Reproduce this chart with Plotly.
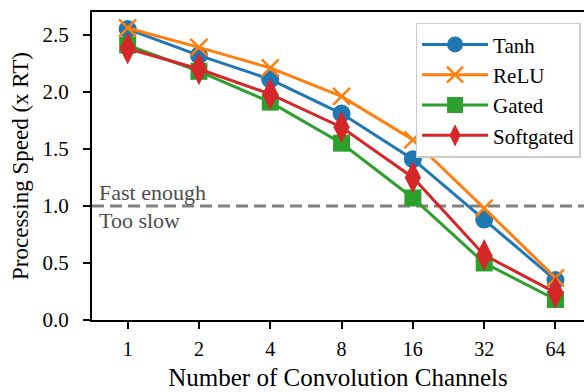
import plotly.graph_objects as go

channels = ["1", "2", "4", "8", "16", "32", "64"]
tanh = [2.55, 2.32, 2.11, 1.81, 1.41, 0.88, 0.35]
relu = [2.56, 2.39, 2.21, 1.96, 1.58, 0.98, 0.37]
gated = [2.41, 2.18, 1.91, 1.55, 1.07, 0.50, 0.18]
softgated = [2.38, 2.20, 1.98, 1.69, 1.25, 0.57, 0.24]

names = ["Tanh", "ReLU", "Gated", "Softgated"]
series = [tanh, relu, gated, softgated]
colors = ["#1f77b4", "#ff7f0e", "#2ca02c", "#d62728"]
symbols = ["circle", "x-thin", "square", "diamond-tall"]
sizes = [18, 17, 17, 23]

FONT = "Liberation Serif, Times New Roman, DejaVu Serif, serif"
xs = list(range(len(channels)))

fig = go.Figure()
for name, ys, c, s, sz in zip(names, series, colors, symbols, sizes):
    fig.add_trace(go.Scatter(
        x=xs, y=ys, name=name, mode="lines+markers",
        line=dict(color=c, width=3),
        marker=dict(symbol=s, size=sz, color=c, line=dict(color=c, width=2.5 if s == "x-thin" else 0)),
    ))

fig.add_shape(type="line", xref="paper", yref="y", x0=0, x1=1, y0=1.0, y1=1.0,
              line=dict(color="#808080", width=3, dash="12px,6px"), layer="below")
fig.add_annotation(xref="paper", yref="y", x=0.01, y=1.0, text="Fast enough", showarrow=False,
                   xanchor="left", yanchor="bottom", yshift=-1, font=dict(family=FONT, size=22, color="#4d4d4d"))
fig.add_annotation(xref="paper", yref="y", x=0.01, y=1.0, text="Too slow", showarrow=False,
                   xanchor="left", yanchor="top", yshift=0, font=dict(family=FONT, size=22, color="#4d4d4d"))

fig.update_layout(
    width=584, height=392,
    margin=dict(l=92, r=0, t=12, b=72),
    paper_bgcolor="white", plot_bgcolor="white",
    font=dict(family=FONT, size=20, color="black"),
    showlegend=True,
    legend=dict(x=0.993, y=0.965, xanchor="right", yanchor="top",
                bgcolor="white", bordercolor="#cccccc", borderwidth=1.5,
                font=dict(family=FONT, size=21, color="black"), itemwidth=66, tracegroupgap=0),
    xaxis=dict(range=[-0.5, 6.4], tickmode="array", tickvals=xs, ticktext=channels,
               showline=True, linecolor="black", linewidth=2, mirror=True,
               ticks="outside", ticklen=7, tickwidth=1.5, tickcolor="black",
               showgrid=False, zeroline=False, automargin=False, ticklabelstandoff=3,
               title=dict(text="Number of Convolution Channels", font=dict(family=FONT, size=25), standoff=9),
               tickfont=dict(family=FONT, size=20, color="black")),
    yaxis=dict(range=[0, 2.7], tickmode="array", tickvals=[0, 0.5, 1.0, 1.5, 2.0, 2.5],
               ticktext=["0.0", "0.5", "1.0", "1.5", "2.0", "2.5"],
               showline=True, linecolor="black", linewidth=2,
               ticks="outside", ticklen=7, tickwidth=1.5, tickcolor="black",
               showgrid=False, zeroline=False, automargin=False, ticklabelstandoff=10,
               title=dict(text="Processing Speed (x RT)", font=dict(family=FONT, size=23), standoff=7),
               tickfont=dict(family=FONT, size=21, color="black")),
)

fig.write_html("out.html", config={"displayModeBar": False},
               post_script="document.body.style.margin='0';document.body.style.padding='0';")
